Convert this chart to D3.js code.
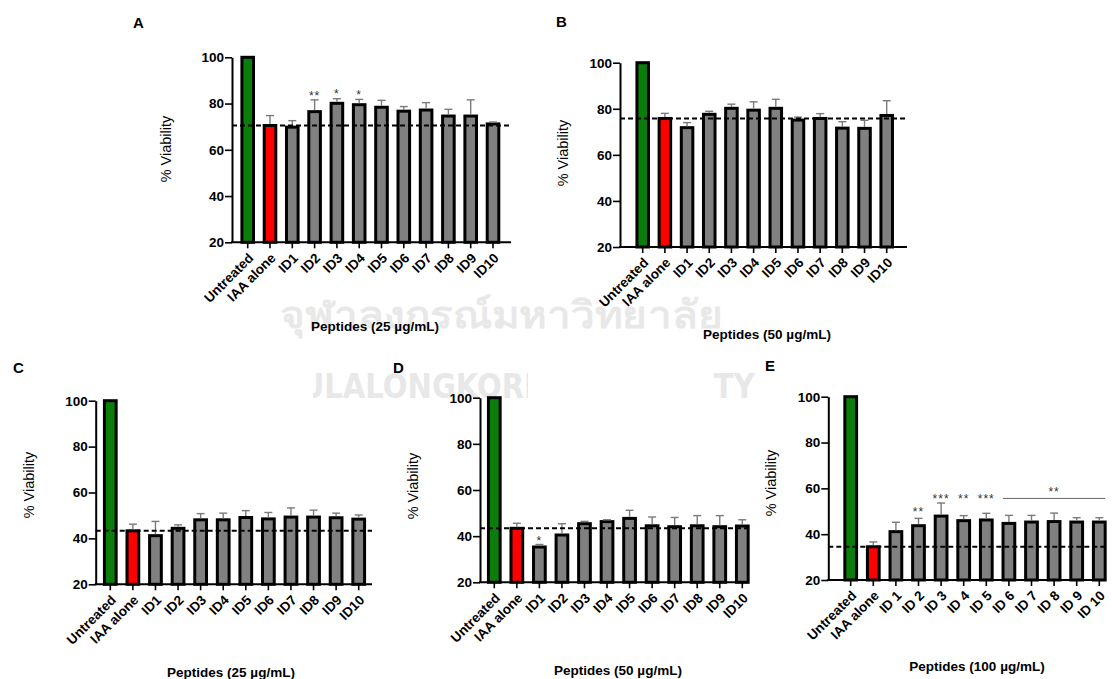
<!DOCTYPE html>
<html>
<head>
<meta charset="utf-8">
<script src="https://cdn.jsdelivr.net/npm/d3@7"></script>
<style>
  body { margin: 0; background: #fff; }
  svg text { font-family: "Liberation Sans", Arial, sans-serif; }
</style>
</head>
<body>
<svg id="fig" width="1112" height="679"></svg>
<script>
// groups on the x axis
const groups = ["Untreated", "IAA alone", "ID1", "ID2", "ID3", "ID4", "ID5", "ID6", "ID7", "ID8", "ID9", "ID10"];
const groupsE = ["Untreated", "IAA alone", "ID 1", "ID 2", "ID 3", "ID 4", "ID 5", "ID 6", "ID 7", "ID 8", "ID 9", "ID 10"];
const yTicks = [20, 40, 60, 80, 100];

// % viability (mean) and upper error (SD)
const meanA = [100, 70.5, 69.8, 76.5, 80.1, 79.5, 78.4, 76.7, 77.2, 74.6, 74.6, 71.2];
const sdA   = [0, 4.3, 2.8, 5.1, 2.0, 2.3, 3.0, 2.0, 3.2, 2.9, 7.0, 0.8];
const meanB = [100, 75.8, 71.8, 77.6, 80.2, 79.4, 80.2, 75.1, 75.8, 71.6, 71.5, 77.1];
const sdB   = [0, 2.2, 2.2, 1.3, 1.8, 3.6, 3.9, 1.3, 2.1, 2.8, 3.5, 6.4];
const meanC = [100, 43.3, 41.2, 44.4, 48.1, 48.1, 49.1, 48.5, 49.3, 49.3, 49.0, 48.4];
const sdC   = [0, 2.9, 6.2, 1.5, 2.7, 2.9, 3.0, 2.8, 4.0, 3.0, 2.0, 1.8];
const meanD = [100, 43.4, 35.3, 40.5, 45.4, 46.3, 47.7, 44.5, 44.1, 44.5, 44.1, 44.4];
const sdD   = [0, 2.2, 1.1, 4.9, 1.0, 0.8, 3.5, 3.8, 4.0, 4.4, 4.8, 2.7];
const meanE = [100, 34.5, 41.1, 43.7, 47.9, 45.9, 46.2, 44.7, 45.3, 45.5, 45.3, 45.3];
const sdE   = [0, 2.1, 4.1, 3.2, 5.7, 2.2, 2.9, 3.5, 2.9, 3.7, 1.9, 1.9];

// significance marks: [group, label, level in % viability]
const starsA = [["ID2", "**", 84.4], ["ID3", "*", 85.1], ["ID4", "*", 84.7]];
const starsB = [];
const starsC = [];
const starsD = [["ID1", "*", 39.1]];
const starsE = [["ID 2", "**", 50.9], ["ID 3", "***", 56.4], ["ID 4", "**", 56.4], ["ID 5", "***", 56.4]];
const bracketE = ["ID 6", "ID 10", "**", 55.6];

const svg = d3.select("#fig");
svg.append("rect").attr("width", 1112).attr("height", 679).attr("fill", "#fff");

// faded watermark behind the figure, squeezed to the width it has in the picture
const wm = svg.append("g").attr("fill", "#e8e8e8").attr("font-weight", "bold");
function watermark(str, x, y, size, width) {
  const t = wm.append("text")
    .attr("font-size", size)
    .style("font-family", "'DejaVu Sans', 'Noto Sans', sans-serif")
    .text(str);
  const k = width / t.node().getComputedTextLength();
  t.attr("transform", `translate(${x},${y}) scale(${k},1)`);
}
watermark("จุฬาลงกรณ์มหาวิทยาลัย", 280, 328, 38, 437);
watermark("CHULALONGKORN UNIVERSITY", 255, 398, 33, 500);
svg.append("rect").attr("x", 139).attr("y", 352).attr("width", 174).attr("height", 56).attr("fill", "#fff");
svg.append("rect").attr("x", 528).attr("y", 354).attr("width", 184).attr("height", 54).attr("fill", "#fff");

const barColor = i => i === 0 ? "#0b7d0b" : (i === 1 ? "#ff0000" : "#808080");

function drawPanel(p) {
  const g = svg.append("g");
  const y = d3.scaleLinear().domain([20, 100]).range([p.yBot, p.yTop]);
  const step = (p.last - p.first) / (p.cats.length - 1);
  const x = d3.scaleBand().domain(p.cats)
    .range([p.first - step / 2, p.last + step / 2])
    .paddingInner(0.48).paddingOuter(0.24);
  const bw = x.bandwidth();

  // bars
  g.selectAll("rect.bar").data(p.cats).join("rect")
    .attr("class", "bar")
    .attr("x", d => x(d))
    .attr("y", (d, i) => y(p.mean[i]))
    .attr("width", bw)
    .attr("height", (d, i) => p.yBot - y(p.mean[i]))
    .attr("fill", (d, i) => barColor(i))
    .attr("stroke", "#000")
    .attr("stroke-width", 3);

  // upper error bars
  const eb = g.append("g").attr("stroke", "#7a7a7a").attr("stroke-width", 1.4);
  p.cats.forEach((c, i) => {
    if (!p.sd[i]) return;
    const cx = x(c) + bw / 2;
    const top = y(p.mean[i] + p.sd[i]);
    eb.append("line").attr("x1", cx).attr("x2", cx).attr("y1", y(p.mean[i]) - 1.5).attr("y2", top);
    eb.append("line").attr("x1", cx - 4).attr("x2", cx + 4).attr("y1", top).attr("y2", top);
  });

  // reference line at the IAA-alone level
  g.append("line")
    .attr("x1", p.x0).attr("x2", p.x1)
    .attr("y1", y(p.mean[1])).attr("y2", y(p.mean[1]))
    .attr("stroke", "#000").attr("stroke-width", 2)
    .attr("stroke-dasharray", "5,3");

  // y axis
  const ya = g.append("g").attr("transform", `translate(${p.x0},0)`)
    .call(d3.axisLeft(y).tickValues(yTicks).tickSize(7).tickSizeOuter(0).tickPadding(1));
  ya.select(".domain").attr("stroke-width", 2);
  ya.selectAll(".tick line").attr("stroke-width", 1.6);
  ya.selectAll(".tick text")
    .attr("font-size", 13.5).attr("font-weight", "bold").attr("fill", "#000")
    .style("font-family", "'Liberation Sans', Arial, sans-serif");

  // x axis
  g.append("line")
    .attr("x1", p.x0 - 1).attr("x2", p.x1)
    .attr("y1", p.yBot).attr("y2", p.yBot)
    .attr("stroke", "#000").attr("stroke-width", 2);
  const xa = g.append("g").attr("transform", `translate(0,${p.yBot})`)
    .call(d3.axisBottom(x).tickSize(6).tickSizeOuter(0));
  xa.select(".domain").remove();
  xa.selectAll(".tick line").attr("stroke-width", 1.6);
  xa.selectAll(".tick text")
    .attr("font-size", 13.5).attr("font-weight", "bold").attr("fill", "#000")
    .style("font-family", "'Liberation Sans', Arial, sans-serif")
    .attr("text-anchor", "end")
    .attr("dy", null)
    .attr("y", null)
    .attr("dominant-baseline", "middle")
    .attr("transform", "translate(4,14) rotate(-45)");

  // stars
  const fs = 12;
  p.stars.forEach(([c, label, v]) => {
    g.append("text")
      .attr("x", x(c) + bw / 2).attr("y", y(v) + fs * 0.55)
      .attr("text-anchor", "middle")
      .attr("font-size", fs).attr("letter-spacing", 1)
      .attr("fill", "#333")
      .text(label);
  });
  if (p.bracket) {
    const [c1, c2, label, v] = p.bracket;
    g.append("line")
      .attr("x1", x(c1)).attr("x2", x(c2) + bw)
      .attr("y1", y(v)).attr("y2", y(v))
      .attr("stroke", "#666").attr("stroke-width", 1);
    g.append("text")
      .attr("x", (x(c1) + x(c2) + bw) / 2).attr("y", y(v) - 9 + fs * 0.55)
      .attr("text-anchor", "middle")
      .attr("font-size", fs).attr("letter-spacing", 1)
      .attr("fill", "#333")
      .text(label);
  }

  // titles
  g.append("text")
    .attr("x", p.letter[0]).attr("y", p.letter[1])
    .attr("font-size", 15).attr("font-weight", "bold")
    .text(p.name);
  g.append("text")
    .attr("transform", `translate(${p.yTitle[0]},${p.yTitle[1]}) rotate(-90)`)
    .attr("text-anchor", "middle").attr("dominant-baseline", "middle")
    .attr("font-size", 14.5)
    .text("% Viability");
  g.append("text")
    .attr("x", p.xTitle[0]).attr("y", p.xTitle[1])
    .attr("text-anchor", "middle")
    .attr("font-size", 13.5).attr("font-weight", "bold")
    .text(p.xLabel);
}

drawPanel({ name: "A", cats: groups, mean: meanA, sd: sdA, stars: starsA,
  x0: 232, x1: 511, first: 247.7, last: 493, yTop: 57.3, yBot: 242.3,
  letter: [133, 28], yTitle: [167, 149], xTitle: [375, 331], xLabel: "Peptides (25 µg/mL)" });
drawPanel({ name: "B", cats: groups, mean: meanB, sd: sdB, stars: starsB,
  x0: 620, x1: 907, first: 642.7, last: 886.7, yTop: 62.7, yBot: 247,
  letter: [556, 27], yTitle: [564, 153], xTitle: [767, 339], xLabel: "Peptides (50 µg/mL)" });
drawPanel({ name: "C", cats: groups, mean: meanC, sd: sdC, stars: starsC,
  x0: 95.7, x1: 372, first: 110.3, last: 358.7, yTop: 400.7, yBot: 584.3,
  letter: [13, 373], yTitle: [30, 485], xTitle: [231, 677], xLabel: "Peptides (25 µg/mL)" });
drawPanel({ name: "D", cats: groups, mean: meanD, sd: sdD, stars: starsD,
  x0: 480, x1: 748, first: 494.3, last: 742.3, yTop: 397.7, yBot: 582.3,
  letter: [393, 373], yTitle: [414, 486], xTitle: [618, 675], xLabel: "Peptides (50 µg/mL)" });
drawPanel({ name: "E", cats: groupsE, mean: meanE, sd: sdE, stars: starsE, bracket: bracketE,
  x0: 828.3, x1: 1106, first: 850.7, last: 1099.3, yTop: 396.7, yBot: 580,
  letter: [765, 371], yTitle: [772, 483], xTitle: [977, 671], xLabel: "Peptides (100 µg/mL)" });
</script>
</body>
</html>
